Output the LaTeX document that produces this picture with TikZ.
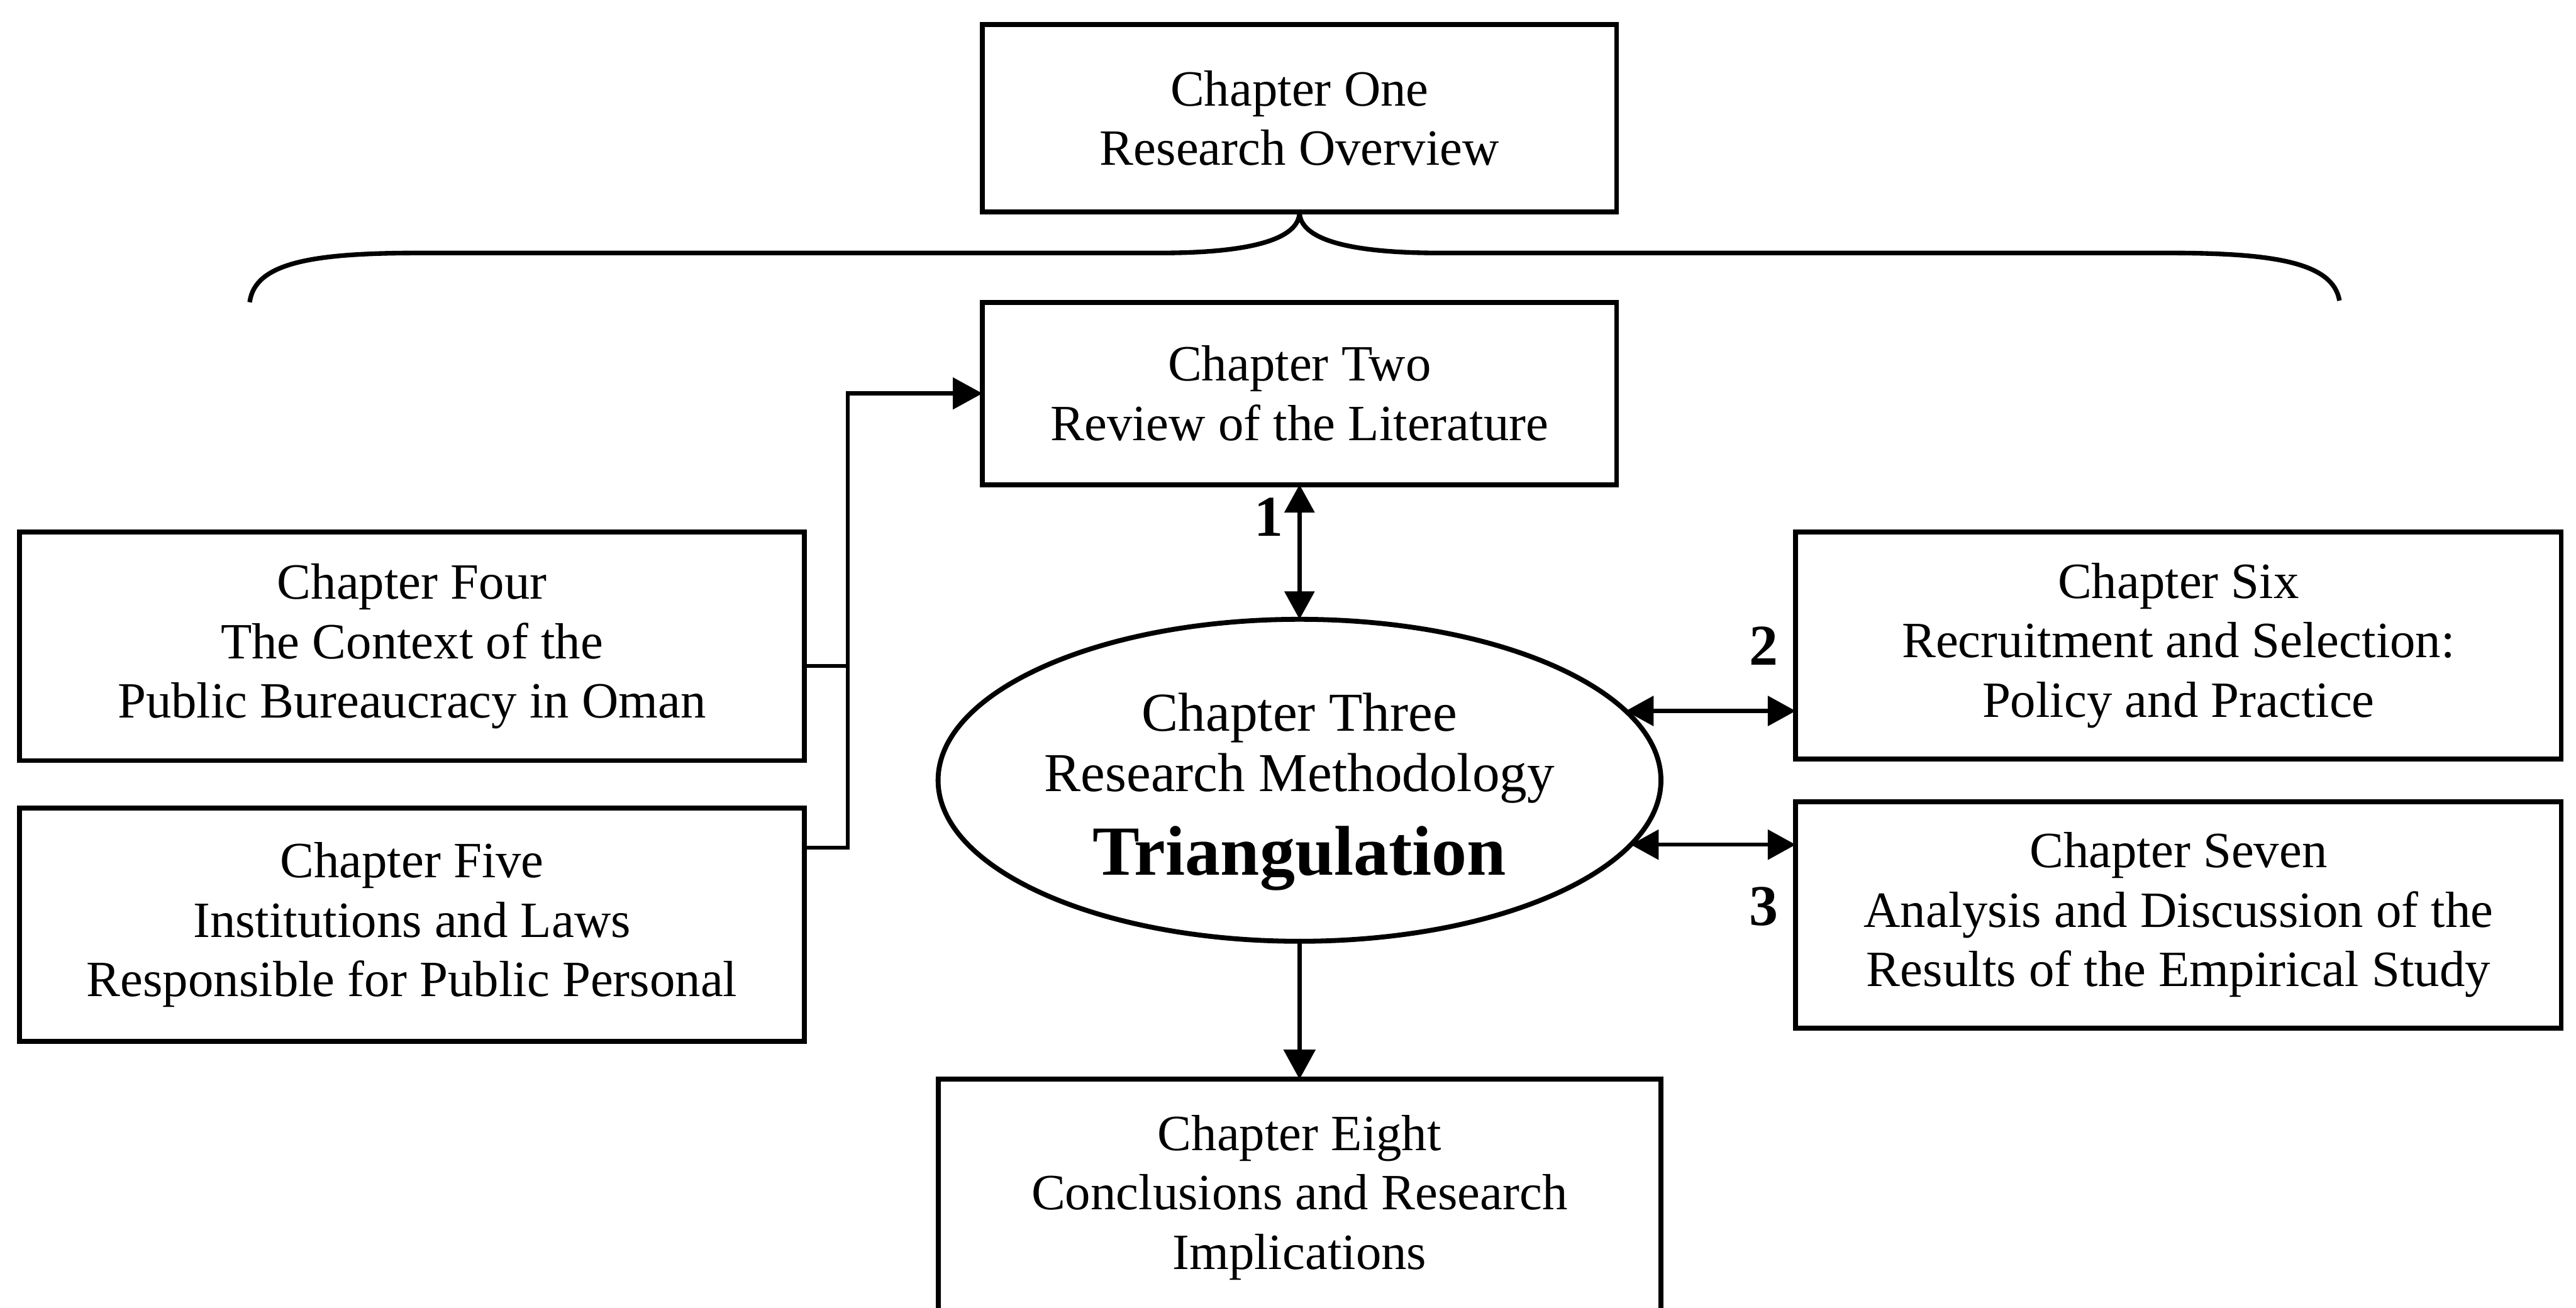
\documentclass[tikz,border=0pt]{standalone}
\usepackage{fontspec}
\setmainfont{Liberation Serif}
\usetikzlibrary{positioning,shapes.geometric,arrows.meta}

\tikzset{
  chap/.style={draw, line width=0.85pt, align=center, inner sep=0pt, outer sep=0pt,
    font=\fontsize{8.8}{10.3}\selectfont},
  num/.style={font=\fontsize{10}{12}\selectfont\bfseries, inner sep=0pt},
  link/.style={line width=0.7pt},
  tip/.style={link, -{Triangle[length=1.8mm,width=1.9mm]}},
  both/.style={link, {Triangle[length=1.7mm,width=1.8mm]}-{Triangle[length=1.7mm,width=1.8mm]}},
}

\begin{document}
\begin{tikzpicture}

  \clip (0,0) rectangle (15.68,7.96);

  \node[ellipse, draw, line width=0.85pt, minimum width=4.4cm, minimum height=1.96cm,
    inner sep=0pt, outer sep=0pt] (ch3) at (7.91,3.21) {};
  \node[align=center, inner sep=0pt, font=\fontsize{9.5}{10.5}\selectfont]
    (ch3_txt) at ([yshift=-0.7mm]ch3.center)
    {Chapter Three\\Research Methodology\\[3pt]{\fontsize{12.2}{13}\selectfont\bfseries Triangulation}};

  %==================================================

  \node[chap, minimum width=3.86cm, minimum height=1.11cm, above=0.82cm of ch3] (ch2)
    {Chapter Two\\Review of the Literature};
  \node[chap, minimum width=3.86cm, minimum height=1.14cm, above=0.55cm of ch2] (ch1)
    {Chapter One\\Research Overview};
  \node[chap, minimum width=4.4cm, minimum height=1.44cm, below=0.84cm of ch3] (ch8)
    {Chapter Eight\\Conclusions and Research\\Implications};

  \node[chap, minimum width=4.775cm, minimum height=1.39cm, yshift=0.815cm, left=0.815cm of ch3] (ch4)
    {Chapter Four\\The Context of the\\Public Bureaucracy in Oman};
  \node[chap, minimum width=4.775cm, minimum height=1.42cm, yshift=-0.88cm, left=0.815cm of ch3] (ch5)
    {Chapter Five\\Institutions and Laws\\Responsible for Public Personal};

  \node[chap, minimum width=4.66cm, minimum height=1.38cm, yshift=0.82cm, right=0.82cm of ch3] (ch6)
    {Chapter Six\\Recruitment and Selection:\\Policy and Practice};
  \node[chap, minimum width=4.66cm, minimum height=1.38cm, yshift=-0.82cm, right=0.82cm of ch3] (ch7)
    {Chapter Seven\\Analysis and Discussion of the\\Results of the Empirical Study};

  \node[num, left=0.1cm of ch6.west] (n2) {2};
  \node[num, yshift=0.5mm, left=0.1cm of ch7.west] (n3) {3};

  %==================================================

  % brace under chapter one
  \draw[line width=0.8pt] (1.52,6.12) .. controls (1.55,6.36) and (1.9,6.42) .. (2.55,6.42)
    -- (7.06,6.42) .. controls (7.6,6.42) and (7.91,6.5) .. (ch1.south)
    .. controls (7.91,6.5) and (8.22,6.42) .. (8.76,6.42)
    -- (13.2,6.42) .. controls (13.85,6.42) and (14.2,6.36) .. (14.24,6.13);

  \draw[both] (ch2.south) -- (ch3.north) node[num, pos=0.24, left=2.5pt] (n1) {1};
  \draw[both] (ch3.12) -- (ch3.12 -| ch6.west);
  \draw[both] (ch3.-11) -- (ch3.-11 -| ch7.west);
  \draw[tip] (ch3.south) -- (ch8.north);

  \coordinate (bus) at (5.16,0);
  \draw[link] ([yshift=-1.2mm]ch4.east) -- ([yshift=-1.2mm]ch4.east -| bus);
  \draw[tip] ([yshift=4.7mm]ch5.east) -| (bus |- ch2.west) -- (ch2.west);

\end{tikzpicture}
\end{document}
